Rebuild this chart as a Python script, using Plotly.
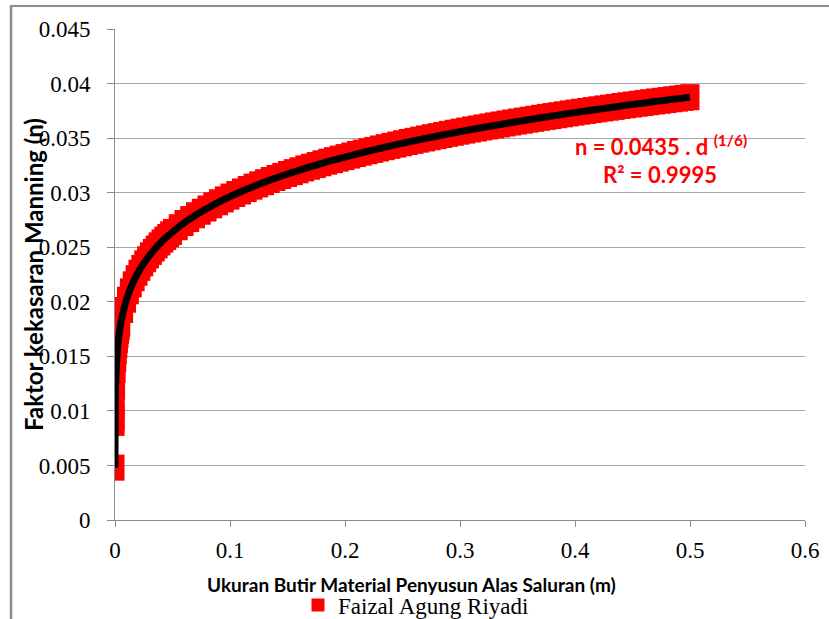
import plotly.graph_objects as go

# ---- data ----
d_values = [0.000001, 0.00007, 0.0001, 0.0002, 0.0005, 0.001, 0.0015, 0.002, 0.0025, 0.003,
            0.0035, 0.004, 0.0045, 0.005, 0.0075, 0.010, 0.0125, 0.015, 0.0175, 0.020,
            0.0225, 0.025, 0.0275, 0.030, 0.0325, 0.035, 0.0375, 0.040, 0.0425, 0.045,
            0.0475, 0.050,
            0.055, 0.060, 0.065, 0.070, 0.075, 0.080, 0.085, 0.090, 0.095, 0.100,
            0.105, 0.110, 0.115, 0.120, 0.125, 0.130, 0.135, 0.140, 0.145, 0.150,
            0.155, 0.160, 0.165, 0.170, 0.175, 0.180, 0.185, 0.190, 0.195, 0.200,
            0.205, 0.210, 0.215, 0.220, 0.225, 0.230, 0.235, 0.240, 0.245, 0.250,
            0.255, 0.260, 0.265, 0.270, 0.275, 0.280, 0.285, 0.290, 0.295, 0.300,
            0.305, 0.310, 0.315, 0.320, 0.325, 0.330, 0.335, 0.340, 0.345, 0.350,
            0.355, 0.360, 0.365, 0.370, 0.375, 0.380, 0.385, 0.390, 0.395, 0.400,
            0.405, 0.410, 0.415, 0.420, 0.425, 0.430, 0.435, 0.440, 0.445, 0.450,
            0.455, 0.460, 0.465, 0.470, 0.475, 0.480, 0.485, 0.490, 0.495, 0.500]
n_values = [0.0048, 0.0089, 0.00937, 0.01052, 0.01225, 0.01376, 0.01472, 0.01544, 0.01603, 0.01652,
            0.01695, 0.01733, 0.01768, 0.01799, 0.01925, 0.02019, 0.02096, 0.02160, 0.02216, 0.02266,
            0.02311, 0.02352, 0.02390, 0.02425, 0.02457, 0.02488, 0.02517, 0.02544, 0.02570, 0.02594,
            0.02618, 0.02640,
            0.02683, 0.02722, 0.02758, 0.02793, 0.02825, 0.02855, 0.02884, 0.02912, 0.02938, 0.02964,
            0.02988, 0.03011, 0.03033, 0.03055, 0.03076, 0.03096, 0.03116, 0.03135, 0.03153, 0.03171,
            0.03188, 0.03205, 0.03222, 0.03238, 0.03253, 0.03269, 0.03284, 0.03298, 0.03312, 0.03326,
            0.03340, 0.03354, 0.03367, 0.03380, 0.03392, 0.03405, 0.03417, 0.03429, 0.03441, 0.03453,
            0.03464, 0.03475, 0.03486, 0.03497, 0.03508, 0.03518, 0.03529, 0.03539, 0.03549, 0.03559,
            0.03569, 0.03579, 0.03588, 0.03598, 0.03607, 0.03616, 0.03625, 0.03634, 0.03643, 0.03652,
            0.03660, 0.03669, 0.03677, 0.03686, 0.03694, 0.03702, 0.03710, 0.03718, 0.03726, 0.03734,
            0.03742, 0.03749, 0.03757, 0.03764, 0.03772, 0.03779, 0.03786, 0.03794, 0.03801, 0.03808,
            0.03815, 0.03822, 0.03829, 0.03836, 0.03842, 0.03849, 0.03856, 0.03862, 0.03869, 0.03875]
series_name = "Faizal Agung Riyadi"
x_tick_vals = [0, 0.1, 0.2, 0.3, 0.4, 0.5, 0.6]
x_tick_text = ["0", "0.1", "0.2", "0.3", "0.4", "0.5", "0.6"]
y_tick_vals = [0, 0.005, 0.01, 0.015, 0.02, 0.025, 0.03, 0.035, 0.04, 0.045]
y_tick_text = ["0", "0.005", "0.01", "0.015", "0.02", "0.025", "0.03", "0.035", "0.04", "0.045"]
x_title = "Ukuran Butir Material Penyusun Alas Saluran (m)"
y_title = "Faktor kekasaran Manning (n)"
eq_line1 = "n = 0.0435 . d <sup>(1/6)</sup>"
eq_line2 = "R² = 0.9995"

W, H = 829, 619
ML, MR, MT, MB = 115, 24, 29, 99
PW, PH = W - ML - MR, H - MT - MB


def px(x):
    return (x - ML) / PW


def py(y):
    return (H - MB - y) / PH


RED = "#FF0000"
SERIF = "Liberation Serif"
SANS = "Lato"
fig = go.Figure()

# data markers (tall red rectangles)
fig.add_trace(go.Scatter(
    x=d_values, y=n_values, mode="markers", showlegend=False,
    marker=dict(symbol="line-ns", size=18.6, color=RED,
                line=dict(color=RED, width=19)),
))
# power trendline
fig.add_trace(go.Scatter(
    x=d_values, y=n_values, mode="lines", showlegend=False,
    line=dict(color="#000000", width=7, shape="spline", smoothing=0.6),
))
# legend entry
fig.add_trace(go.Scatter(
    x=[None], y=[None], mode="markers", name=series_name,
    marker=dict(symbol="square", size=13, color=RED),
))

fig.update_layout(
    width=W, height=H,
    margin=dict(l=ML, r=MR, t=MT, b=MB, autoexpand=False),
    paper_bgcolor="white", plot_bgcolor="white",
    font=dict(family=SERIF, size=23, color="#000000"),
    showlegend=True,
    legend=dict(x=px(298), y=py(605), xanchor="left", yanchor="middle",
                font=dict(family=SERIF, size=23, color="#000000"),
                bgcolor="rgba(0,0,0,0)", itemwidth=30, tracegroupgap=0),
    xaxis=dict(range=[0, 0.6], tickmode="array", tickvals=x_tick_vals, ticktext=x_tick_text,
               showgrid=False, zeroline=False, showline=True, linecolor="#8c8c8c",
               linewidth=1, ticks="outside", ticklen=6, tickcolor="#8c8c8c",
               tickfont=dict(family=SERIF, size=23, color="#000000"),
               ticklabelstandoff=3),
    yaxis=dict(range=[0, 0.045], tickmode="array", tickvals=y_tick_vals, ticktext=y_tick_text,
               showgrid=True, gridcolor="#a6a6a6", gridwidth=1, zeroline=False,
               showline=True, linecolor="#8c8c8c", linewidth=1,
               ticks="outside", ticklen=7, tickcolor="#8c8c8c",
               tickfont=dict(family=SERIF, size=23, color="#000000"),
               ticklabelstandoff=12),
    annotations=[
        dict(text="<b>" + x_title + "</b>", xref="paper", yref="paper",
             x=px(411), y=py(584), xanchor="center", yanchor="middle",
             showarrow=False, font=dict(family=SANS, size=19, color="#000000")),
        dict(text="<b>" + y_title + "</b>", xref="paper", yref="paper",
             x=px(33), y=py(275), xanchor="center", yanchor="middle", textangle=-90,
             showarrow=False, font=dict(family=SANS, size=24, color="#000000")),
        dict(text="<b>" + eq_line1 + "</b>", xref="paper", yref="paper",
             x=px(661), y=py(145), xanchor="center", yanchor="middle",
             showarrow=False, font=dict(family=SANS, size=22, color=RED)),
        dict(text="<b>" + eq_line2 + "</b>", xref="paper", yref="paper",
             x=px(660), y=py(175), xanchor="center", yanchor="middle",
             showarrow=False, font=dict(family=SANS, size=22, color=RED)),
    ],
    shapes=[
        dict(type="line", xref="paper", yref="paper", x0=px(10), x1=px(840),
             y0=py(6), y1=py(6), line=dict(color="#8c8c8c", width=2)),
        dict(type="line", xref="paper", yref="paper", x0=px(11), x1=px(11),
             y0=py(6), y1=py(640), line=dict(color="#8c8c8c", width=2.5)),
    ],
)

fig.write_html("out.html")
